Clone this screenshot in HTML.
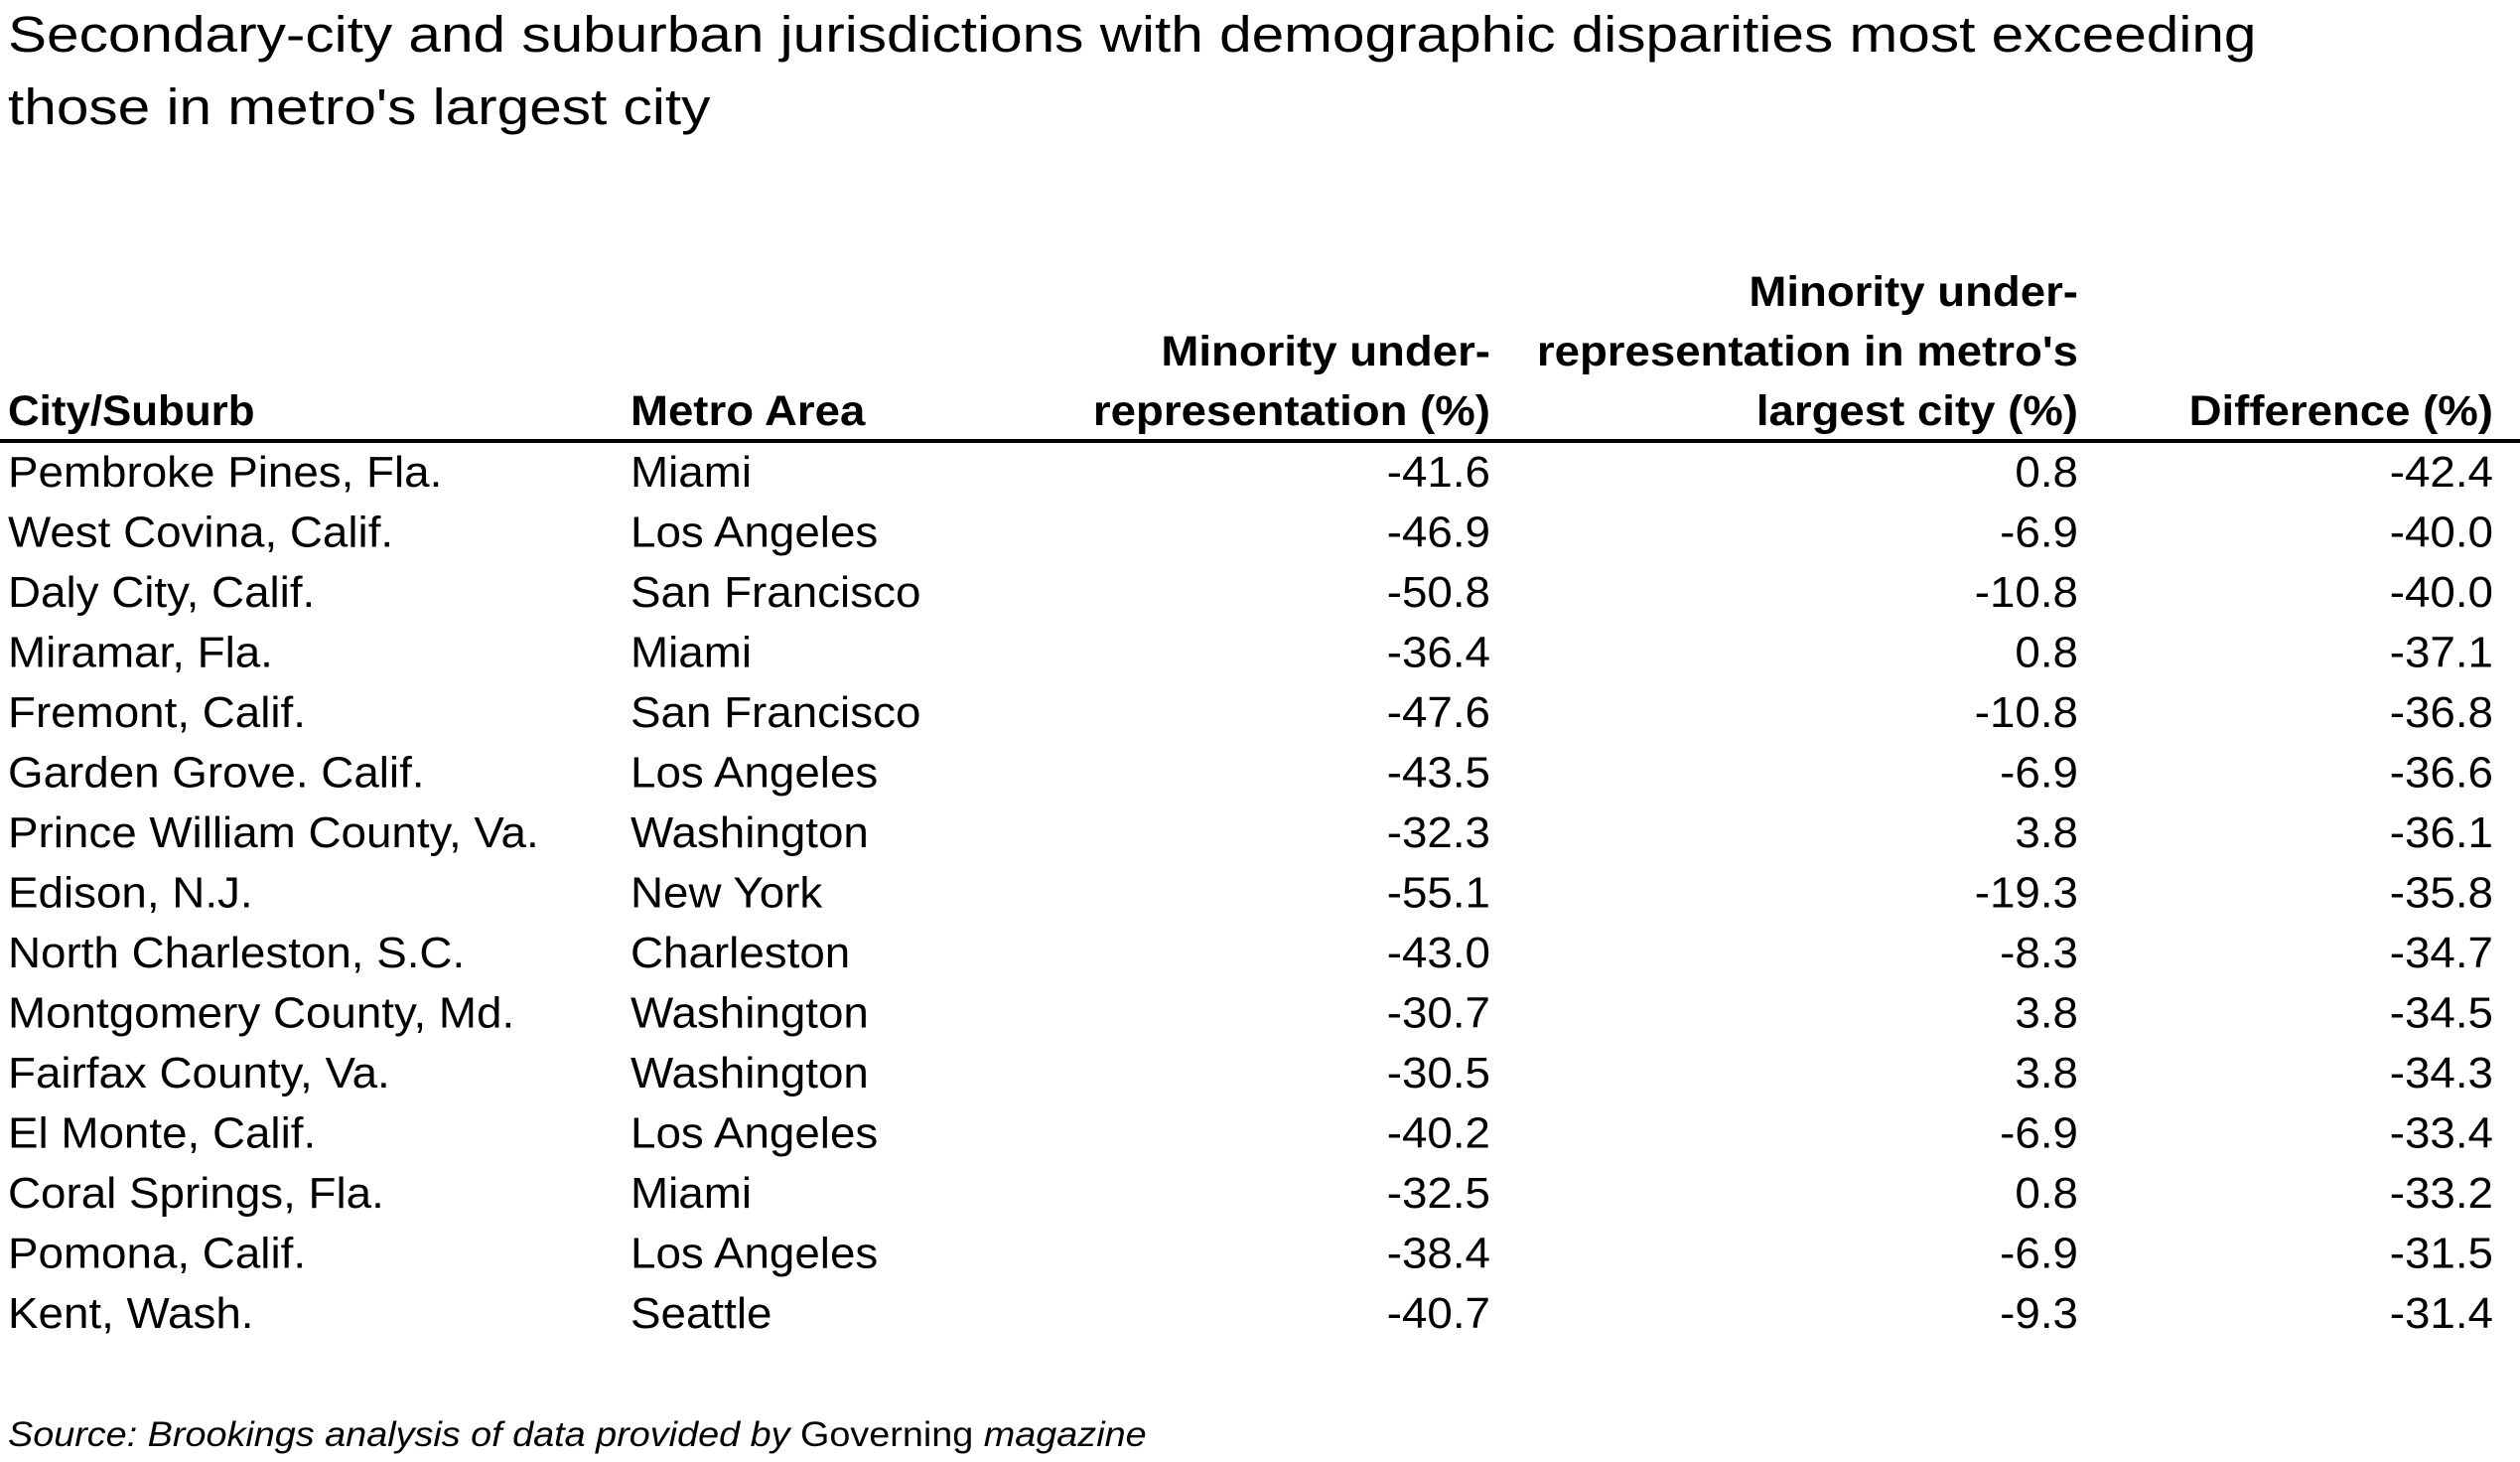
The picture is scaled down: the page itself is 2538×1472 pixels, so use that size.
<!DOCTYPE html>
<html><head><meta charset="utf-8"><style>
html,body{margin:0;padding:0;background:#fff;}
svg{display:block;font-family:"Liberation Sans",Arial,sans-serif;}
</style></head><body>
<svg id="tbl" width="2538" height="1472" viewBox="0 0 2538 1472" xmlns="http://www.w3.org/2000/svg">
<g id="g"></g>
<rect x="0" y="442" width="2538" height="4" fill="#000"/>
</svg>
<script>
const cities = ["Pembroke Pines, Fla.","West Covina, Calif.","Daly City, Calif.","Miramar, Fla.","Fremont, Calif.","Garden Grove. Calif.","Prince William County, Va.","Edison, N.J.","North Charleston, S.C.","Montgomery County, Md.","Fairfax County, Va.","El Monte, Calif.","Coral Springs, Fla.","Pomona, Calif.","Kent, Wash."];
const metros = ["Miami","Los Angeles","San Francisco","Miami","San Francisco","Los Angeles","Washington","New York","Charleston","Washington","Washington","Los Angeles","Miami","Los Angeles","Seattle"];
const minorityUnder = ["-41.6","-46.9","-50.8","-36.4","-47.6","-43.5","-32.3","-55.1","-43.0","-30.7","-30.5","-40.2","-32.5","-38.4","-40.7"];
const largestCityUnder = ["0.8","-6.9","-10.8","0.8","-10.8","-6.9","3.8","-19.3","-8.3","3.8","3.8","-6.9","0.8","-6.9","-9.3"];
const difference = ["-42.4","-40.0","-40.0","-37.1","-36.8","-36.6","-36.1","-35.8","-34.7","-34.5","-34.3","-33.4","-33.2","-31.5","-31.4"];

const g = document.getElementById('g');
function txt(x, y, s, opts, name) {
  const sx = opts.sx || 1.04;
  const t = document.createElementNS('http://www.w3.org/2000/svg', 'text');
  t.setAttribute('x', x / sx);
  t.setAttribute('y', y);
  t.setAttribute('transform', 'scale(' + sx + ',1)');
  t.setAttribute('font-size', opts.size || 44);
  if (opts.bold) t.setAttribute('font-weight', 'bold');
  if (opts.italic) t.setAttribute('font-style', 'italic');
  if (opts.anchor) t.setAttribute('text-anchor', opts.anchor);
  t.setAttribute('fill', '#000');
  t.textContent = s;
  
  
  g.appendChild(t);
  return t;
}
txt(8, 52, "Secondary-city and suburban jurisdictions with demographic disparities most exceeding", {size: 51, sx: 1.148}, 'chart-title-line-1');
txt(8, 125, "those in metro's largest city", {size: 51, sx: 1.148}, 'chart-title-line-2');

function H(extra) { return Object.assign({bold: true, size: 43, sx: 1.06}, extra || {}); }
txt(8, 428, "City/Suburb", H({sx: 1.02}), 'header-city-suburb');
txt(635, 428, "Metro Area", H(), 'header-metro-area');
txt(1501, 368, "Minority under-", H({anchor: 'end'}), 'header-minority-line-1');
txt(1501, 428, "representation (%)", H({anchor: 'end'}), 'header-minority-line-2');
txt(2093, 308, "Minority under-", H({anchor: 'end'}), 'header-largest-line-1');
txt(2093, 368, "representation in metro's", H({anchor: 'end'}), 'header-largest-line-2');
txt(2093, 428, "largest city (%)", H({anchor: 'end'}), 'header-largest-line-3');
txt(2511, 428, "Difference (%)", H({anchor: 'end'}), 'header-difference');

const y0 = 490, dy = 60.5;
for (let i = 0; i < cities.length; i++) {
  const y = y0 + i * dy;
  txt(8, y, cities[i], {}, 'city-cell');
  txt(635, y, metros[i], {}, 'metro-cell');
  txt(1501, y, minorityUnder[i], {anchor: 'end'}, 'minority-value-cell');
  txt(2093, y, largestCityUnder[i], {anchor: 'end'}, 'largest-city-value-cell');
  txt(2511, y, difference[i], {anchor: 'end'}, 'difference-value-cell');
}

const sx = 1.08;
const s = document.createElementNS('http://www.w3.org/2000/svg', 'text');
s.setAttribute('x', 8 / sx);
s.setAttribute('y', 1456);
s.setAttribute('transform', 'scale(' + sx + ',1)');
s.setAttribute('font-size', 35);


s.innerHTML = '<tspan font-style="italic">Source: Brookings analysis of data provided by </tspan><tspan> Governing </tspan><tspan font-style="italic">magazine</tspan>';
g.appendChild(s);
</script>
</body></html>
